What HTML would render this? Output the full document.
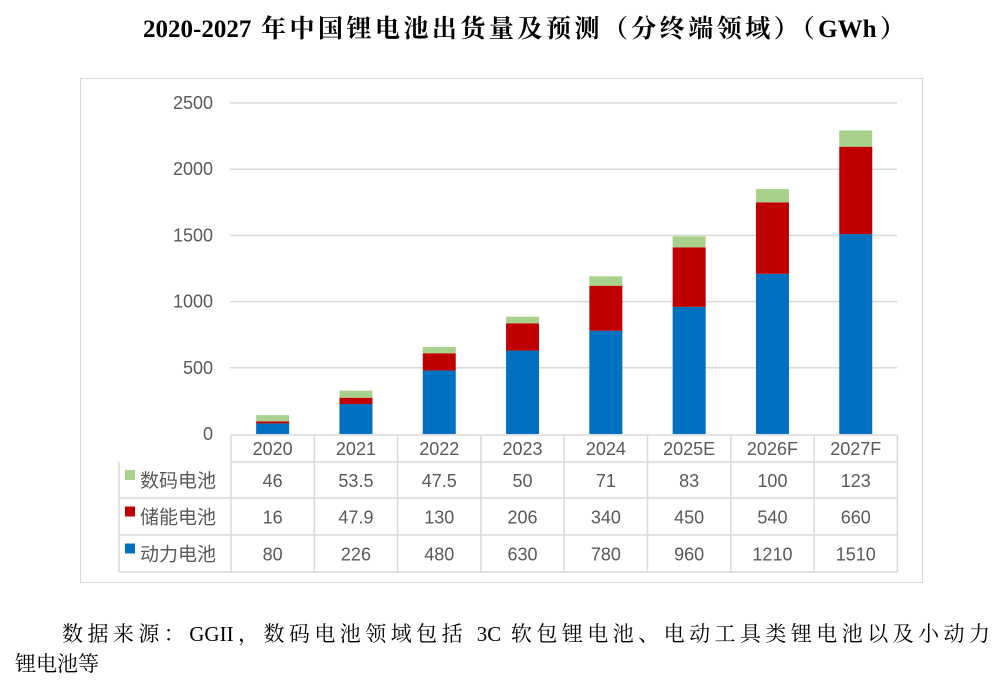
<!DOCTYPE html>
<html><head><meta charset="utf-8"><style>
body{margin:0;background:#fff;width:996px;height:681px;position:relative;overflow:hidden;font-family:"Liberation Sans","Noto Sans CJK SC",sans-serif}
.t{position:absolute;white-space:nowrap}
</style></head><body>
<div class="t" style="left:143px;width:762px;top:9px;text-align:justify;text-align-last:justify;font:bold 25px 'Liberation Serif','Noto Serif CJK SC',serif;color:#000">2020-2027 年中国锂电池出货量及预测（分终端领域）（GWh）</div>
<svg id="c" width="996" height="681" style="position:absolute;left:0;top:0"></svg>
<div class="t" style="left:62px;top:618px;width:928px;font:21px 'Liberation Serif','Noto Serif CJK SC',serif;color:#000;text-align:justify;text-align-last:justify">数据来源：GGII，数码电池领域包括 3C 软包锂电池、电动工具类锂电池以及小动力</div>
<div class="t" style="left:15px;top:648px;font:21px 'Liberation Serif','Noto Serif CJK SC',serif;color:#000">锂电池等</div>
<script>
const categories=["2020","2021","2022","2023","2024","2025E","2026F","2027F"];
const power=[80,226,480,630,780,960,1210,1510];
const storage=[16,47.9,130,206,340,450,540,660];
const digital=[46,53.5,47.5,50,71,83,100,123];
const yTicks=[0,500,1000,1500,2000,2500];
const seriesNames=["数码电池","储能电池","动力电池"];
const NS="http://www.w3.org/2000/svg";
const svg=document.getElementById('c');
function mk(t,a,p){const e=document.createElementNS(NS,t);for(const k in a)e.setAttribute(k,a[k]);(p||svg).appendChild(e);return e;}
const x0=231,cw=83.3,y0=434,yScale=v=>y0-v*331/2500,xc=i=>x0+cw*i+cw/2;
let e=mk('rect',{x:80.5,y:78.5,width:842,height:504,fill:'none',stroke:'#d9d9d9'});


yTicks.forEach(v=>{
 if(v>0){e=mk('line',{x1:230,x2:897,y1:yScale(v),y2:yScale(v),stroke:'#d9d9d9','stroke-width':1.5});
 
 }
 e=mk('text',{x:213,y:yScale(v)+6,'text-anchor':'end','font-size':18,fill:'#595959'});e.textContent=v;
 
 
});
const cols=['#0070c0','#c00000','#a9d18e'];
categories.forEach((c,i)=>{
 let base=0;[power,storage,digital].forEach((s,k)=>{
  const v=s[i];e=mk('rect',{x:xc(i)-16.5,width:33,y:yScale(base+v),height:yScale(base)-yScale(base+v),fill:cols[k]});
  
  
  base+=v;});
});
const g='#d9d9d9';
const rows=[435,462,498,535,572];
mk('line',{x1:x0,x2:897,y1:rows[0],y2:rows[0],stroke:g,'stroke-width':1.5});
for(let r=1;r<5;r++)mk('line',{x1:r==1?x0:119,x2:897,y1:rows[r],y2:rows[r],stroke:g,'stroke-width':1.5});
mk('line',{x1:119,x2:119,y1:rows[1],y2:rows[4],stroke:g,'stroke-width':1.5});
for(let i=0;i<=8;i++)mk('line',{x1:x0+cw*i,x2:x0+cw*i,y1:rows[0],y2:rows[4],stroke:g,'stroke-width':1.5});
categories.forEach((c,i)=>{e=mk('text',{x:xc(i),y:455,'text-anchor':'middle','font-size':18,fill:'#595959'});e.textContent=c;
 
 });
[digital,storage,power].forEach((s,r)=>{
 const cy=(rows[r+1]+rows[r+2])/2;
 e=mk('rect',{x:125,y:cy-10,width:10,height:10,fill:cols[2-r]});
 
 
 e=mk('text',{x:140,y:cy+7,'font-size':19,fill:'#595959'});e.textContent=seriesNames[r];
 
 
 s.forEach((v,i)=>{e=mk('text',{x:xc(i),y:cy+7,'text-anchor':'middle','font-size':18,fill:'#595959'});e.textContent=v;
  
  });
});
</script>
</body></html>
